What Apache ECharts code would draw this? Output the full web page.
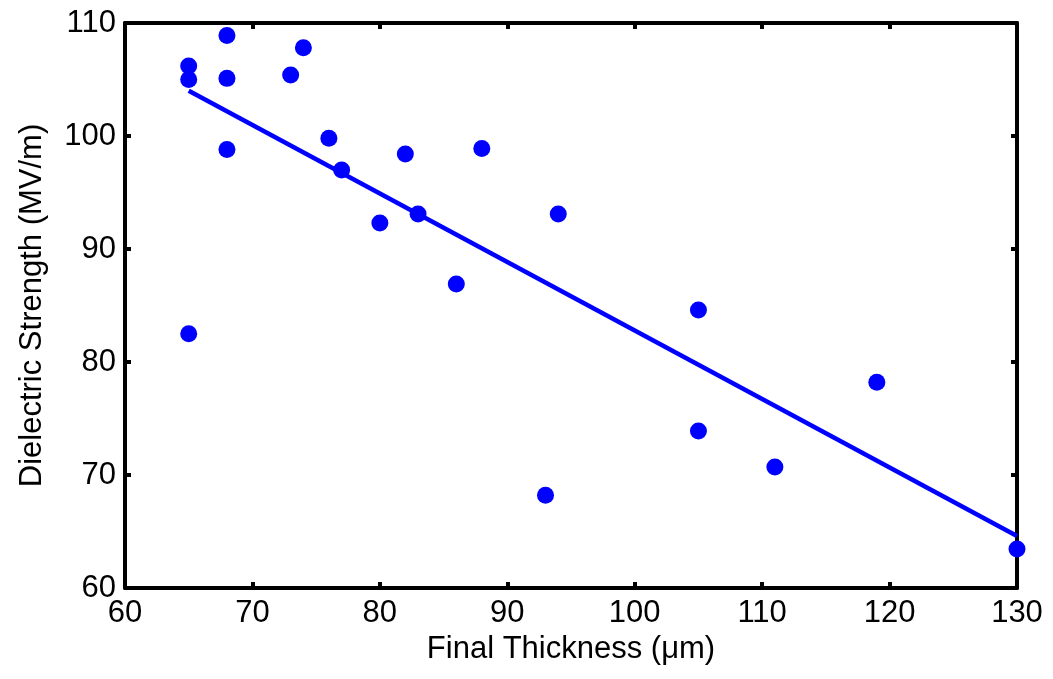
<!DOCTYPE html>
<html>
<head>
<meta charset="utf-8">
<script src="https://cdn.jsdelivr.net/npm/echarts@6/dist/echarts.min.js"></script>
<style>
html,body{margin:0;padding:0;background:#fff;}
#chart{width:1053px;height:679px;}
</style>
</head>
<body>
<div id="chart"></div>
<script>
// Final thickness (µm) of each sample
const thickness = [65, 65, 65, 68, 68, 68, 73, 74, 76, 77, 80, 82, 83, 86, 88, 93, 94, 105, 105, 111, 119, 130];
// Dielectric strength (MV/m) of each sample
const strength = [106.2, 105.0, 82.5, 108.9, 105.1, 98.8, 105.4, 107.8, 99.8, 97.0, 92.3, 98.4, 93.1, 86.9, 98.9, 68.2, 93.1, 84.6, 73.9, 70.7, 78.2, 63.45];
// Linear trend line endpoints
const fitX = [65, 130];
const fitY = [104.0, 64.6];
// Axis tick values
const xTicks = [60, 70, 80, 90, 100, 110, 120, 130];
const yTicks = [60, 70, 80, 90, 100, 110];

const FONT = 'Liberation Sans, Arial, sans-serif';
const FS = 31;
const chart = echarts.init(document.getElementById('chart'));

const axisCommon = {
  axisLine: { show: true, lineStyle: { color: '#000', width: 4 } },
  axisTick: { show: true, inside: true, length: 6, lineStyle: { color: '#000', width: 4 } },
  splitLine: { show: false }
};

chart.setOption({
  animation: false,
  backgroundColor: '#fff',
  grid: { left: 125, right: 36, top: 23, bottom: 91, containLabel: false },
  xAxis: [
    Object.assign({}, axisCommon, {
      type: 'value', min: xTicks[0], max: xTicks[xTicks.length - 1], interval: 10,
      position: 'bottom',
      name: 'Final Thickness (μm)', nameLocation: 'middle', nameGap: 40,
      nameTextStyle: { fontFamily: FONT, fontSize: FS, color: '#000' },
      axisLabel: { fontFamily: FONT, fontSize: FS, color: '#000', margin: 10 }
    }),
    Object.assign({}, axisCommon, {
      type: 'value', min: xTicks[0], max: xTicks[xTicks.length - 1], interval: 10,
      position: 'top', axisLabel: { show: false }
    })
  ],
  yAxis: [
    Object.assign({}, axisCommon, {
      type: 'value', min: yTicks[0], max: yTicks[yTicks.length - 1], interval: 10,
      position: 'left',
      name: 'Dielectric Strength (MV/m)', nameLocation: 'middle', nameGap: 77,
      nameTextStyle: { fontFamily: FONT, fontSize: FS, color: '#000' },
      axisLabel: { fontFamily: FONT, fontSize: FS, color: '#000', margin: 9 }
    }),
    Object.assign({}, axisCommon, {
      type: 'value', min: yTicks[0], max: yTicks[yTicks.length - 1], interval: 10,
      position: 'right', axisLabel: { show: false }
    })
  ],
  series: [
    {
      type: 'line',
      data: fitX.map((x, i) => [x, fitY[i]]),
      showSymbol: false,
      symbol: 'none',
      lineStyle: { color: '#0000ff', width: 4.5 },
      z: 2
    },
    {
      type: 'scatter',
      data: thickness.map((x, i) => [x, strength[i]]),
      symbol: 'circle',
      symbolSize: 17,
      itemStyle: { color: '#0000ff', opacity: 1 },
      z: 3
    }
  ]
});
</script>
</body>
</html>
